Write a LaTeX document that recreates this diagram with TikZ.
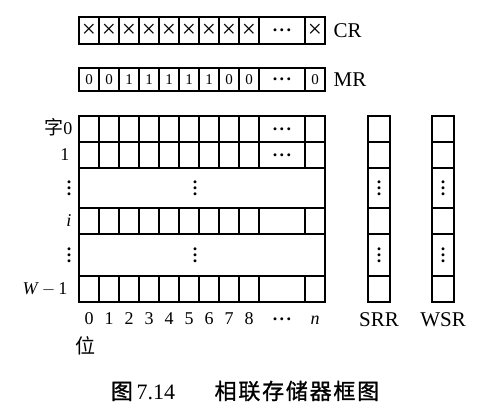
\documentclass[tikz,border=0pt]{standalone}
\usepackage{fontspec}
\usepackage{tikz}
\usetikzlibrary{positioning}
\setmainfont{Liberation Serif}
\newfontfamily\cjk{Noto Sans CJK SC}
\newfontfamily\cjkcap[LetterSpace=8,FakeBold=1]{Noto Sans CJK SC}
\newcommand\vdotcol{\vbox{\baselineskip=6pt\lineskiplimit=0pt\hbox{\bfseries.}\hbox{\bfseries.}\hbox{\bfseries.}}}
\newcommand\hdotrow{\hbox{\fontsize{18}{18}\selectfont\bfseries .\kern2.5pt.\kern2.5pt.}}

\begin{document}
\begin{tikzpicture}[x=1pt,y=1pt,line width=1.2pt,node distance=0pt]
  \tikzstyle{cell}=[draw=black, inner sep=0pt, outer sep=0pt, minimum width=20pt, minimum height=26pt, anchor=north west, font=\fontsize{15}{15}\selectfont]
  \tikzstyle{xcell}=[cell, minimum height=27pt, font=\fontsize{25}{25}\selectfont]
  \tikzstyle{wide}=[cell, minimum width=46pt]
  \tikzstyle{gaprow}=[cell, minimum width=246pt]
  \tikzstyle{reg}=[cell, minimum width=22pt]
  \tikzstyle{lbl}=[inner sep=0pt, text height=12pt, text depth=0pt, font=\fontsize{18}{18}\selectfont]
  \tikzstyle{dotlbl}=[inner sep=0pt, font=\fontsize{18}{18}\selectfont]
  \tikzstyle{regname}=[inner sep=0pt, text height=14pt, text depth=0pt, font=\fontsize{21}{21}\selectfont]
  \useasboundingbox (0,0) rectangle (495,-411);

  \foreach \k in {0,...,8}
    \node[xcell]                      (cr\k)  at (79+20*\k,-17) {×};
  \node[xcell, minimum width=46pt, right=of cr8] (crd) {\hdotrow};
  \node[xcell, right=of crd]          (crn)  {×};
  \node[regname, right=8pt of crn]    (crl)  {CR};

  \foreach \k/\v in {0/0,1/0,2/1,3/1,4/1,5/1,6/1,7/0,8/0}
    \node[cell, minimum height=23pt]  (mr\k)  at (79+20*\k,-68) {\v};
  \node[wide, minimum height=23pt, right=of mr8] (mrd) {\hdotrow};
  \node[cell, minimum height=23pt, right=of mrd] (mrn) {0};
  \node[regname, right=8pt of mrn]    (mrl)  {MR};

  \foreach \r/\t/\d in {0/116/\hdotrow, 1/142/\hdotrow, i/208/, w/276/} {
    \foreach \k in {0,...,8}
      \node[cell]                     (z\r-\k) at (79+20*\k,-\t) {};
    \node[wide, right=of z\r-8]       (z\r-d) {\d};
    \node[cell, right=of z\r-d]       (z\r-n) {};
  }
  \node[gaprow, minimum height=40pt]  (g1)   at (79,-168) {};
  \node[gaprow, minimum height=42pt]  (g2)   at (79,-234) {};
  \node[dotlbl]                       (g1v)  at (195,-188) {\vdotcol};
  \node[dotlbl]                       (g2v)  at (195,-255) {\vdotcol};

  \node[lbl, left=6pt of z0-0]        (l0)   {{\cjk\fontsize{19}{19}\selectfont 字}0};
  \node[lbl, left=9pt of z1-0]        (l1)   {1};
  \node[dotlbl, left=7pt of g1]       (lg1)  {\vdotcol};
  \node[lbl, left=7pt of zi-0]        (li)   {\textit{i}};
  \node[dotlbl, left=7pt of g2]       (lg2)  {\vdotcol};
  \node[lbl, left=11pt of zw-0]       (lw)   {\textit{W}\,$-$\,1};

  \foreach \k in {0,...,8}
    \node[lbl, below=10pt of zw-\k]   (b\k)  {\k};
  \node[lbl, below=10pt of zw-d]      (bd)   {\raisebox{4pt}{\hdotrow}};
  \node[lbl, below=10pt of zw-n]      (bn)   {\textit{n}};
  \node[lbl, text height=16pt, font={\cjk\fontsize{20}{20}\selectfont}, below=12pt of b0, xshift=-4pt] (wei) {位};

  \foreach \g/\x/\s in {srr/368/SRR, wsr/432/WSR} {
    \node[reg]                                        (\g-0)  at (\x,-116) {};
    \node[reg, below=of \g-0]                         (\g-1)  {};
    \node[reg, below=of \g-1, minimum height=40pt, font=\fontsize{18}{18}\selectfont] (\g-g1) {\vdotcol};
    \node[reg, below=of \g-g1]                        (\g-i)  {};
    \node[reg, below=of \g-i, minimum height=42pt, font=\fontsize{18}{18}\selectfont] (\g-g2) {\vdotcol};
    \node[reg, below=of \g-g2]                        (\g-w)  {};
    \node[regname, below=10pt of \g-w]                (\g-l)  {\s};
  }

  \node[font=\fontsize{22}{22}\selectfont] (cap) at (245,-391) {{\cjkcap 图}\,7.14\hspace{1.8em}{\cjkcap 相联存储器框图}};
\end{tikzpicture}
\end{document}
